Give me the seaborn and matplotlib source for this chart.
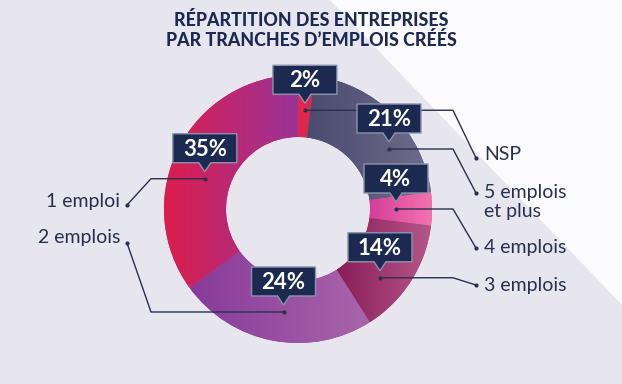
import numpy as np
import seaborn as sns
import matplotlib.pyplot as plt
from matplotlib.patches import Polygon

# data, clockwise from 12 o'clock
categories = ["NSP", "5 emplois\net plus", "4 emplois", "3 emplois", "2 emplois", "1 emploi"]
shares = [2, 21, 4, 14, 24, 35]
pct_labels = ["2%", "21%", "4%", "14%", "24%", "35%"]

# gradient colours per slice (left, right)
grad_colors = [("#e3264a", "#d92a55"),
               ("#4a4b6f", "#706c8b"),
               ("#d63e98", "#f273b0"),
               ("#8a1c58", "#b55889"),
               ("#883a9a", "#a966aa"),
               ("#dc1d4c", "#9a3499")]

# callout placement (layout): angle offset from slice middle, radius, label side / y
ang_offset = [0.4, 11.6, 0, 7.6, -2.8, -9]
anchor_r = [99, 109, 98, 107, 104, 98]
label_side = ["r", "r", "r", "r", "l", "l"]
label_y = [154, 202, 248, 285, 238, 202]
leader_end_y = [158, 193, 248, 285, 243, 205]

sns.set_theme(style="white")
plt.rcParams['font.family'] = ['Lato', 'DejaVu Sans']

W, H = 622, 384
navy = "#1c2a52"
ink = "#2a2f4f"

fig = plt.figure(figsize=(6.22, 3.84), dpi=100)
fig.patch.set_facecolor("#e7e6ee")
ax = fig.add_axes([0, 0, 1, 1])
ax.set_facecolor("#e7e6ee")

# light diagonal band in the upper right
ax.add_patch(Polygon([(330, 0), (W, 0), (W, 305)], closed=True,
                     facecolor="#fbfbfd", edgecolor="none", zorder=0))

cx, cy, R = 298, 209, 134
wedges, _ = ax.pie(shares, center=(cx, cy), radius=R, startangle=-90,
                   counterclock=True, frame=True,
                   colors=[c[0] for c in grad_colors],
                   wedgeprops=dict(width=62, linewidth=0))

grad = np.linspace(0, 1, 256).reshape(1, -1)
for w, (c0, c1) in zip(wedges, grad_colors):
    bb = w.get_path().get_extents()
    cmap = sns.blend_palette([c0, c1], n_colors=256, as_cmap=True)
    im = ax.imshow(grad, cmap=cmap, aspect="auto", zorder=2,
                   extent=(bb.x0, bb.x1, bb.y1, bb.y0), interpolation="bilinear")
    im.set_clip_path(w)

ax.set_xlim(0, W)
ax.set_ylim(H, 0)
ax.axis("off")

# title
ax.text(311, 30, "RÉPARTITION DES ENTREPRISES\nPAR TRANCHES D’EMPLOIS CRÉÉS",
        ha="center", va="center", fontsize=12.8, fontweight="black",
        color=navy, linespacing=1.15)

cum = np.cumsum([0] + shares[:-1])
for i, (share, lab, cat) in enumerate(zip(shares, pct_labels, categories)):
    a = np.deg2rad((cum[i] + share / 2) * 3.6 + ang_offset[i])
    dx = cx + anchor_r[i] * np.sin(a)
    dy = cy - anchor_r[i] * np.cos(a)

    # leader line
    if label_side[i] == "r":
        xs = [dx, 453, 476]
        tx, ha = 484, "left"
    else:
        xs = [dx, 151, 127]
        tx, ha = 120, "right"
    ys = [dy, dy, leader_end_y[i]]
    ax.plot(xs, ys, color=ink, lw=1, zorder=3)
    ax.plot([xs[0], xs[-1]], [ys[0], ys[-1]], "o", ms=2, color=ink, zorder=3)

    ax.text(tx, label_y[i], cat, ha=ha, va="center", fontsize=14,
            fontweight="normal", color=ink, linespacing=1.1)

    # callout box with pointer
    bw, bh = 64, 29
    y1 = dy - 16
    y0 = y1 - bh
    x0, x1 = dx - bw / 2, dx + bw / 2
    pts = [(x0, y0), (x1, y0), (x1, y1), (dx + 6, y1), (dx, y1 + 9),
           (dx - 6, y1), (x0, y1)]
    ax.add_patch(Polygon(pts, closed=True, facecolor=navy, edgecolor="#8d93ad",
                         lw=1, zorder=4))
    ax.text(dx, (y0 + y1) / 2 + 1, lab, ha="center", va="center",
            fontsize=16, fontweight="bold", color="white", zorder=5)

fig.savefig("out.png", dpi=100, facecolor=fig.get_facecolor())
